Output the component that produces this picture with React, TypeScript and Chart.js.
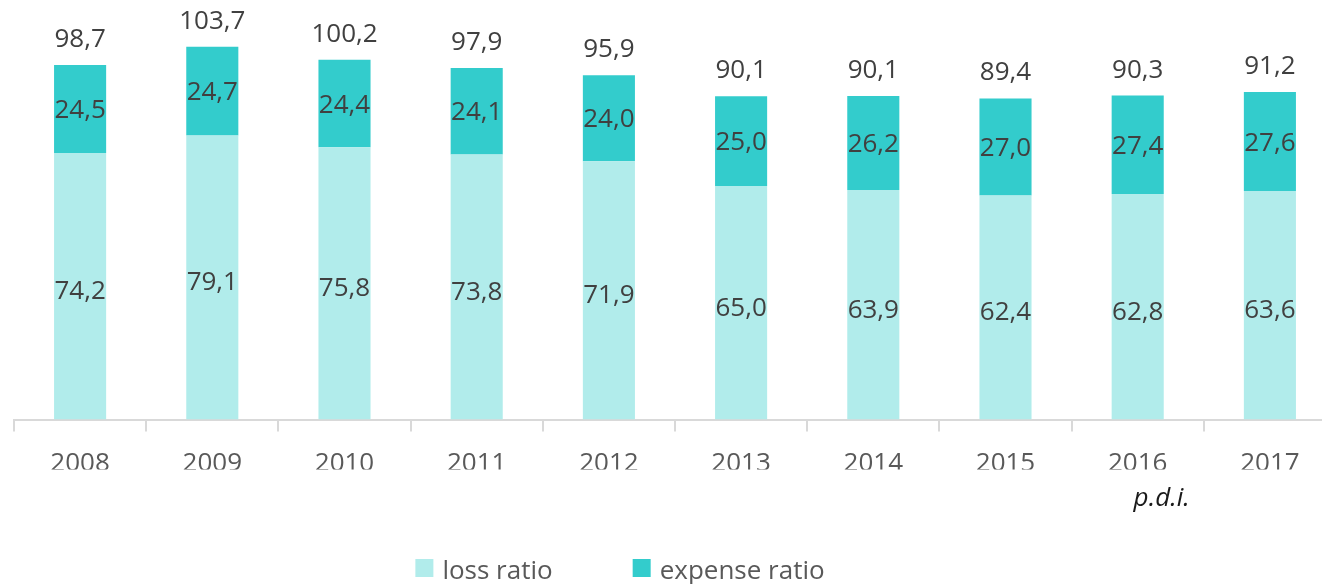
import React, { useEffect, useRef } from "react";
import { Chart, registerables } from "chart.js";

Chart.register(...registerables);

const categories = ["2008", "2009", "2010", "2011", "2012", "2013", "2014", "2015", "2016", "2017"];
const lossRatio = [74.2, 79.1, 75.8, 73.8, 71.9, 65.0, 63.9, 62.4, 62.8, 63.6];
const expenseRatio = [24.5, 24.7, 24.4, 24.1, 24.0, 25.0, 26.2, 27.0, 27.4, 27.6];
const totals = [98.7, 103.7, 100.2, 97.9, 95.9, 90.1, 90.1, 89.4, 90.3, 91.2];
const seriesNames = ["loss ratio", "expense ratio"];
const seriesColors = ["#B1ECEB", "#33CCCC"];
const footnoteText = "p.d.i.";
const footnoteCategory = "2016";

const FONT = "'Open Sans', 'Noto Sans', sans-serif";
const fmt = (v: number) => v.toFixed(1).replace(".", ",");

const valueLabels = {
  id: "valueLabels",
  afterDatasetsDraw(chart: any) {
    const ctx = chart.ctx;
    ctx.save();
    ctx.font = `26px ${FONT}`;
    ctx.fillStyle = "#404040";
    ctx.textAlign = "center";
    ctx.textBaseline = "alphabetic";
    chart.data.datasets.forEach((ds: any, i: number) => {
      const meta = chart.getDatasetMeta(i);
      meta.data.forEach((bar: any, j: number) => {
        const { x, y, base } = bar.getProps(["x", "y", "base"], true);
        const cy = (y + base) / 2 + (i === 0 ? 4 : 0);
        ctx.fillText(fmt(ds.data[j]), x, cy + 9);
      });
    });
    const topMeta = chart.getDatasetMeta(chart.data.datasets.length - 1);
    topMeta.data.forEach((bar: any, j: number) => {
      const { x, y } = bar.getProps(["x", "y"], true);
      ctx.fillText(fmt(totals[j]), x, y - 18);
    });
    ctx.restore();
  },
};

const extras = {
  id: "extras",
  afterDraw(chart: any) {
    const ctx = chart.ctx;
    ctx.save();
    // footnote under 2016
    const xs = chart.scales.x;
    const fx = xs.getPixelForValue(categories.indexOf(footnoteCategory)) + 24;
    ctx.font = `italic 26px ${FONT}`;
    ctx.fillStyle = "#1a1a1a";
    ctx.textAlign = "center";
    ctx.textBaseline = "alphabetic";
    ctx.fillText(footnoteText, fx, 506);

    // legend
    ctx.font = `26px ${FONT}`;
    const box = 18;
    const gapText = 9;
    const gapItem = 80;
    const items = chart.data.datasets.map((ds: any) => ({
      label: ds.label,
      color: ds.backgroundColor,
      w: ctx.measureText(ds.label).width,
    }));
    const total = items.reduce((s: number, it: any) => s + box + gapText + it.w, 0) + gapItem * (items.length - 1);
    let x = 620 - total / 2;
    items.forEach((it: any) => {
      ctx.fillStyle = it.color;
      ctx.fillRect(x, 559, box, box);
      ctx.fillStyle = "#595959";
      ctx.textAlign = "left";
      ctx.fillText(it.label, x + box + gapText, 579);
      x += box + gapText + it.w + gapItem;
    });
    ctx.restore();
  },
};

export default function App() {
  const ref = useRef<HTMLCanvasElement | null>(null);
  useEffect(() => {
    document.body.style.margin = "0";
    const canvas = ref.current!;
    const chart = new Chart(canvas, {
      type: "bar",
      data: {
        labels: categories,
        datasets: [
          { label: seriesNames[0], data: lossRatio, backgroundColor: seriesColors[0], stack: "s" },
          { label: seriesNames[1], data: expenseRatio, backgroundColor: seriesColors[1], stack: "s" },
        ],
      },
      options: {
        responsive: false,
        animation: false,
        devicePixelRatio: 1,
        layout: { padding: { top: 24.5, left: 14, right: 4, bottom: 114.5 } },
        datasets: { bar: { categoryPercentage: 1, barPercentage: 0.394 } } as any,
        plugins: { legend: { display: false }, tooltip: { enabled: false } },
        scales: {
          x: {
            stacked: true,
            grid: {
              display: true,
              drawOnChartArea: false,
              drawTicks: true,
              tickLength: 12,
              color: "#D9D9D9",
              lineWidth: 2,
              offset: true,
            },
            border: { display: true, color: "#D9D9D9", width: 2 },
            ticks: { color: "#595959", font: { family: FONT, size: 26 }, padding: 16, maxRotation: 0, autoSkip: false },
            afterFit: (s: any) => {
              s.height = 50;
            },
          },
          y: { stacked: true, display: false, min: 0, max: 110 },
        },
      },
      plugins: [valueLabels, extras],
    });
    document.fonts && document.fonts.ready.then(() => chart.update());
    return () => chart.destroy();
  }, []);
  return (
    <div style={{ position: "fixed", left: 0, top: 0, width: 1322, height: 584, overflow: "hidden", background: "#fff" }}>
      <canvas ref={ref} width={1340} height={584} style={{ display: "block" }} />
    </div>
  );
}
